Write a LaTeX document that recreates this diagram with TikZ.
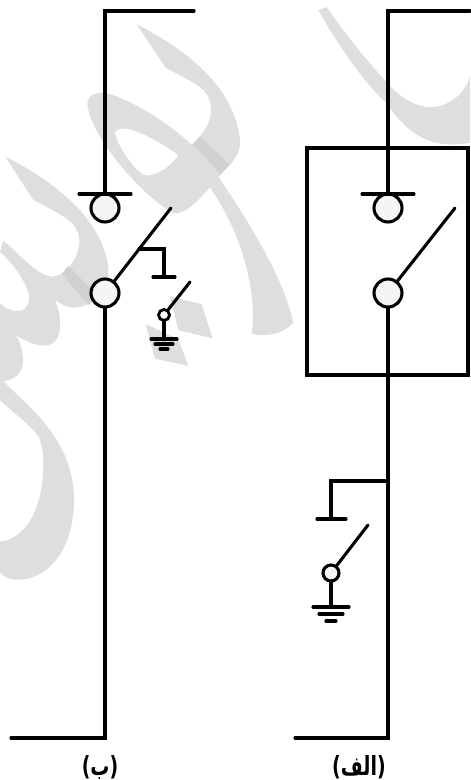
\documentclass[tikz,border=0pt]{standalone}
\usepackage{fontspec}
\newfontfamily\arabicfont[Script=Arabic,FakeStretch=0.72]{DejaVu Sans}
\TeXXeTstate=1
\tikzset{
  wire/.style={line width=1.75pt,line cap=round},
  contact/.style={circle,draw,line width=1.75pt,fill=black!4,minimum size=0.56cm,inner sep=0pt},
  smallcontact/.style={circle,draw,line width=1.6pt,fill=white,minimum size=0.22cm,inner sep=0pt},
  midcontact/.style={circle,draw,line width=1.75pt,fill=black!4,minimum size=0.32cm,inner sep=0pt},
  caption/.style={font=\arabicfont\bfseries\fontsize{15}{15}\selectfont,inner sep=0pt},
  wmark/.style={fill=black!13,draw=none}
}
\begin{document}
\begin{tikzpicture}[x=0.02cm,y=-0.02cm]
\useasboundingbox (0,0) rectangle (470,780);
% watermark
\begin{scope}[x=0.00667cm,y=-0.00714cm]
\fill[wmark] (955,28) -- (980,20) .. controls (1040,100) and (1100,170) .. (1160,230) .. controls (1200,275) and (1250,300) .. (1290,300) .. controls (1350,300) and (1395,260) .. (1410,215) -- (1410,400) .. controls (1320,415) and (1240,400) .. (1160,290) .. controls (1090,230) and (1010,120) .. (955,28) -- cycle;
\fill[wmark,even odd rule] (410,68) .. controls (560,140) and (700,240) .. (720,390) .. controls (722,430) and (705,450) .. (655,495) .. controls (760,640) and (850,780) .. (880,905) .. controls (850,935) and (800,945) .. (755,935) .. controls (775,800) and (710,630) .. (630,525) .. controls (590,565) and (560,598) .. (525,598) .. controls (450,570) and (270,390) .. (262,290) .. controls (265,255) and (310,255) .. (350,270) .. controls (430,300) and (510,350) .. (575,405) .. controls (610,375) and (640,340) .. (632,295) .. controls (625,250) and (600,240) .. (497,190) -- cycle
(345,370) .. controls (360,345) and (440,370) .. (535,435) .. controls (510,470) and (470,490) .. (440,492) .. controls (410,490) and (345,400) .. (345,370) -- cycle;
\fill[black!18] (580,405) -- (600,382) -- (688,460) -- (662,488) -- cycle;
\fill[wmark] (15,438) .. controls (165,510) and (305,610) .. (325,750) .. controls (327,800) and (300,860) .. (215,862) .. controls (195,860) and (180,850) .. (165,840) .. controls (190,900) and (190,968) .. (130,968) .. controls (100,968) and (70,950) .. (48,940) .. controls (80,990) and (85,1068) .. (0,1068) -- (0,850) .. controls (50,890) and (90,870) .. (88,830) .. controls (80,790) and (40,740) .. (0,705) -- (10,675) .. controls (60,710) and (110,775) .. (160,775) .. controls (200,770) and (240,720) .. (238,670) .. controls (230,620) and (200,610) .. (100,560) -- cycle;
\fill[black!18] (185,768) -- (205,745) -- (290,825) -- (268,855) -- cycle;
\fill[wmark] (10,1068) .. controls (80,1135) and (222,1230) .. (222,1400) .. controls (222,1520) and (160,1624) .. (51,1624) .. controls (30,1624) and (15,1618) .. (0,1604) -- (0,1517) .. controls (80,1510) and (130,1420) .. (130,1300) .. controls (130,1270) and (125,1240) .. (115,1222) .. controls (80,1180) and (30,1150) .. (0,1120) -- (0,1068) -- cycle;
\fill[wmark] (510,830) -- (605,852) -- (638,948) -- (535,925) -- cycle;
\fill[wmark] (437,908) -- (535,950) -- (565,1025) -- (465,1005) -- cycle;
\end{scope}
% (b)
\coordinate (bbusr) at (194,11);
\coordinate (bbust) at (105,11);
\coordinate (bfixed) at (105,194);
\coordinate (bplatel) at (79,194);
\coordinate (bplater) at (131,194);
\node[contact] (bupper) at (105,208) {};
\node[contact] (blower) at (105,293) {};
\coordinate (bblade) at (171,208);
\coordinate (bbranch) at (139,249);
\coordinate (bbend) at (164,249);
\coordinate (bearth) at (164,277);
\coordinate (bearthl) at (153,277);
\coordinate (bearthr) at (175,277);
\node[smallcontact] (bsmall) at (164,315) {};
\coordinate (bsblade) at (190,282);
\coordinate (bgnd) at (164,339);
\coordinate (bbot) at (105,738);
\coordinate (bbotl) at (11,738);
\draw[wire] (bbusr) -- (bbust) -- (bfixed);
\draw[wire] (bplatel) -- (bplater);
\draw[wire] (blower) -- (bblade);
\draw[wire] (bbranch) -- (bbend) -- (bearth);
\draw[wire] (bearthl) -- (bearthr);
\draw[wire] (bsmall) -- (bsblade);
\draw[wire] (bsmall) -- (bgnd);
\draw[wire] (151,339) -- (177,339);
\draw[wire] (155,344) -- (173,344);
\draw[wire] (160,349) -- (168,349);
\draw[wire] (blower) -- (bbot) -- (bbotl);
% (a)
\coordinate (abust) at (388,11);
\coordinate (abusr) at (470,11);
\coordinate (afixed) at (388,194);
\coordinate (aplatel) at (362,194);
\coordinate (aplater) at (414,194);
\node[contact] (aupper) at (388,208) {};
\node[contact] (alower) at (388,293) {};
\coordinate (ablade) at (455,208);
\coordinate (abranch) at (388,481);
\coordinate (abend) at (331,481);
\coordinate (aearth) at (331,519);
\coordinate (aearthl) at (317,519);
\coordinate (aearthr) at (346,519);
\node[midcontact] (asmall) at (331,573) {};
\coordinate (asblade) at (368,525);
\coordinate (agnd) at (331,607);
\coordinate (abot) at (388,738);
\coordinate (abotl) at (295,738);
\draw[wire] (abusr) -- (abust) -- (afixed);
\draw[wire] (aplatel) -- (aplater);
\draw[wire] (alower) -- (ablade);
\draw[wire] (307,148) rectangle (468,375);
\draw[wire] (abranch) -- (abend) -- (aearth);
\draw[wire] (aearthl) -- (aearthr);
\draw[wire] (asmall) -- (asblade);
\draw[wire] (asmall) -- (agnd);
\draw[wire] (313,607) -- (349,607);
\draw[wire] (319,614) -- (343,614);
\draw[wire] (326,621) -- (336,621);
\draw[wire] (alower) -- (abot) -- (abotl);
% captions
\node[caption] (bcap) at (100,767) {\beginR(ب)\endR};
\node[caption] (acap) at (359,767) {\beginR(الف)\endR};
\end{tikzpicture}
\end{document}
